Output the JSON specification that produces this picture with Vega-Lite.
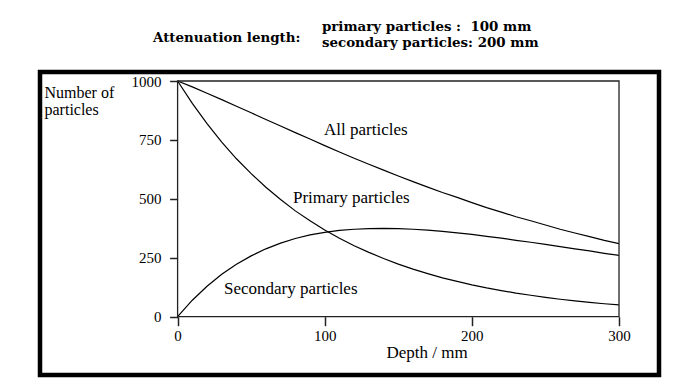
{
  "$schema": "https://vega.github.io/schema/vega-lite/v6.json",
  "width": 619,
  "height": 303,
  "autosize": {"type": "none"},
  "padding": {"left": 40, "top": 72, "right": 39, "bottom": 9},
  "background": "white",
  "config": {
    "view": {"stroke": "black", "strokeWidth": 4.5, "fill": "white"},
    "font": "Liberation Serif"
  },
  "datasets": {
    "one": [{}],
    "curves": [
      {"depth": 0, "series": "All particles", "count": 1000},
      {"depth": 10, "series": "All particles", "count": 975},
      {"depth": 20, "series": "All particles", "count": 948},
      {"depth": 30, "series": "All particles", "count": 921},
      {"depth": 40, "series": "All particles", "count": 893},
      {"depth": 50, "series": "All particles", "count": 865},
      {"depth": 60, "series": "All particles", "count": 837},
      {"depth": 70, "series": "All particles", "count": 809},
      {"depth": 80, "series": "All particles", "count": 781},
      {"depth": 90, "series": "All particles", "count": 754},
      {"depth": 100, "series": "All particles", "count": 726},
      {"depth": 110, "series": "All particles", "count": 699},
      {"depth": 120, "series": "All particles", "count": 672},
      {"depth": 130, "series": "All particles", "count": 647},
      {"depth": 140, "series": "All particles", "count": 622},
      {"depth": 150, "series": "All particles", "count": 597},
      {"depth": 160, "series": "All particles", "count": 573},
      {"depth": 170, "series": "All particles", "count": 550},
      {"depth": 180, "series": "All particles", "count": 527},
      {"depth": 190, "series": "All particles", "count": 506},
      {"depth": 200, "series": "All particles", "count": 484},
      {"depth": 210, "series": "All particles", "count": 463},
      {"depth": 220, "series": "All particles", "count": 444},
      {"depth": 230, "series": "All particles", "count": 424},
      {"depth": 240, "series": "All particles", "count": 407},
      {"depth": 250, "series": "All particles", "count": 389},
      {"depth": 260, "series": "All particles", "count": 371},
      {"depth": 270, "series": "All particles", "count": 355},
      {"depth": 280, "series": "All particles", "count": 340},
      {"depth": 290, "series": "All particles", "count": 324},
      {"depth": 300, "series": "All particles", "count": 310},
      {"depth": 0, "series": "Primary particles", "count": 1000},
      {"depth": 10, "series": "Primary particles", "count": 905},
      {"depth": 20, "series": "Primary particles", "count": 819},
      {"depth": 30, "series": "Primary particles", "count": 741},
      {"depth": 40, "series": "Primary particles", "count": 670},
      {"depth": 50, "series": "Primary particles", "count": 607},
      {"depth": 60, "series": "Primary particles", "count": 549},
      {"depth": 70, "series": "Primary particles", "count": 497},
      {"depth": 80, "series": "Primary particles", "count": 449},
      {"depth": 90, "series": "Primary particles", "count": 407},
      {"depth": 100, "series": "Primary particles", "count": 368},
      {"depth": 110, "series": "Primary particles", "count": 333},
      {"depth": 120, "series": "Primary particles", "count": 301},
      {"depth": 130, "series": "Primary particles", "count": 273},
      {"depth": 140, "series": "Primary particles", "count": 247},
      {"depth": 150, "series": "Primary particles", "count": 223},
      {"depth": 160, "series": "Primary particles", "count": 202},
      {"depth": 170, "series": "Primary particles", "count": 183},
      {"depth": 180, "series": "Primary particles", "count": 165},
      {"depth": 190, "series": "Primary particles", "count": 150},
      {"depth": 200, "series": "Primary particles", "count": 135},
      {"depth": 210, "series": "Primary particles", "count": 122},
      {"depth": 220, "series": "Primary particles", "count": 111},
      {"depth": 230, "series": "Primary particles", "count": 100},
      {"depth": 240, "series": "Primary particles", "count": 91},
      {"depth": 250, "series": "Primary particles", "count": 82},
      {"depth": 260, "series": "Primary particles", "count": 74},
      {"depth": 270, "series": "Primary particles", "count": 67},
      {"depth": 280, "series": "Primary particles", "count": 61},
      {"depth": 290, "series": "Primary particles", "count": 55},
      {"depth": 300, "series": "Primary particles", "count": 50},
      {"depth": 0, "series": "Secondary particles", "count": 0},
      {"depth": 10, "series": "Secondary particles", "count": 70},
      {"depth": 20, "series": "Secondary particles", "count": 129},
      {"depth": 30, "series": "Secondary particles", "count": 180},
      {"depth": 40, "series": "Secondary particles", "count": 223},
      {"depth": 50, "series": "Secondary particles", "count": 258},
      {"depth": 60, "series": "Secondary particles", "count": 288},
      {"depth": 70, "series": "Secondary particles", "count": 312},
      {"depth": 80, "series": "Secondary particles", "count": 332},
      {"depth": 90, "series": "Secondary particles", "count": 347},
      {"depth": 100, "series": "Secondary particles", "count": 358},
      {"depth": 110, "series": "Secondary particles", "count": 366},
      {"depth": 120, "series": "Secondary particles", "count": 371},
      {"depth": 130, "series": "Secondary particles", "count": 374},
      {"depth": 140, "series": "Secondary particles", "count": 375},
      {"depth": 150, "series": "Secondary particles", "count": 374},
      {"depth": 160, "series": "Secondary particles", "count": 371},
      {"depth": 170, "series": "Secondary particles", "count": 367},
      {"depth": 180, "series": "Secondary particles", "count": 362},
      {"depth": 190, "series": "Secondary particles", "count": 356},
      {"depth": 200, "series": "Secondary particles", "count": 349},
      {"depth": 210, "series": "Secondary particles", "count": 341},
      {"depth": 220, "series": "Secondary particles", "count": 333},
      {"depth": 230, "series": "Secondary particles", "count": 324},
      {"depth": 240, "series": "Secondary particles", "count": 316},
      {"depth": 250, "series": "Secondary particles", "count": 307},
      {"depth": 260, "series": "Secondary particles", "count": 297},
      {"depth": 270, "series": "Secondary particles", "count": 288},
      {"depth": 280, "series": "Secondary particles", "count": 279},
      {"depth": 290, "series": "Secondary particles", "count": 269},
      {"depth": 300, "series": "Secondary particles", "count": 260}
    ]
  },
  "layer": [
    {
      "data": {"name": "curves"},
      "mark": {"type": "line", "color": "black", "strokeWidth": 1.2},
      "encoding": {
        "x": {
          "field": "depth",
          "type": "quantitative",
          "scale": {"domain": [-93.52, 327.18], "nice": false, "zero": false},
          "axis": {
            "title": "Depth / mm",
            "orient": "bottom",
            "offset": -58.3,
            "values": [0, 100, 200, 300],
            "format": "d",
            "domain": false,
            "grid": false,
            "tickSize": 9,
            "tickWidth": 1.5,
            "tickColor": "#222",
            "labelFont": "Liberation Serif",
            "labelFontSize": 15,
            "labelColor": "black",
            "labelPadding": 3,
            "titleFont": "Liberation Serif",
            "titleFontSize": 17,
            "titleFontWeight": "normal",
            "titleColor": "black",
            "titleX": 386.5,
            "titleY": 41,
            "titleBaseline": "alphabetic",
            "titleAnchor": "middle"
          }
        },
        "y": {
          "field": "count",
          "type": "quantitative",
          "scale": {"domain": [-247.3, 1038.2], "nice": false, "zero": false},
          "axis": {
            "title": ["Number of", "particles"],
            "orient": "left",
            "offset": -137.6,
            "values": [0, 250, 500, 750, 1000],
            "format": "d",
            "domain": false,
            "grid": false,
            "tickSize": 8,
            "tickWidth": 1.5,
            "tickColor": "#222",
            "labelFont": "Liberation Serif",
            "labelFontSize": 15,
            "labelColor": "black",
            "labelPadding": 8.5,
            "titleFont": "Liberation Serif",
            "titleFontSize": 16,
            "titleFontWeight": "normal",
            "titleColor": "black",
            "titleAngle": 0,
            "titleAlign": "left",
            "titleBaseline": "alphabetic",
            "titleLineHeight": 17,
            "titleX": -133.6,
            "titleY": 25.7
          }
        },
        "detail": {"field": "series", "type": "nominal"}
      }
    },
    {
      "data": {"name": "one"},
      "mark": {"type": "rect", "fillOpacity": 0, "stroke": "#222", "strokeWidth": 1.3},
      "encoding": {
        "x": {"datum": 0},
        "x2": {"datum": 300},
        "y": {"datum": 0},
        "y2": {"datum": 1000}
      }
    },
    {
      "data": {"name": "one"},
      "mark": {"type": "text", "align": "left", "baseline": "alphabetic", "font": "Liberation Serif", "fontSize": 17, "color": "black"},
      "encoding": {"x": {"datum": 99.5}, "y": {"datum": 771}, "text": {"value": "All particles"}}
    },
    {
      "data": {"name": "one"},
      "mark": {"type": "text", "align": "left", "baseline": "alphabetic", "font": "Liberation Serif", "fontSize": 17, "color": "black"},
      "encoding": {"x": {"datum": 78.4}, "y": {"datum": 483.7}, "text": {"value": "Primary particles"}}
    },
    {
      "data": {"name": "one"},
      "mark": {"type": "text", "align": "left", "baseline": "alphabetic", "font": "Liberation Serif", "fontSize": 17, "color": "black"},
      "encoding": {"x": {"datum": 31.5}, "y": {"datum": 96.3}, "text": {"value": "Secondary particles"}}
    },
    {
      "data": {"name": "one"},
      "mark": {"type": "text", "align": "left", "baseline": "alphabetic", "font": "DejaVu Serif", "fontSize": 13.4, "fontWeight": "bold", "color": "black"},
      "encoding": {"x": {"datum": -16.7}, "y": {"datum": 1165.5}, "text": {"value": "Attenuation length:"}}
    },
    {
      "data": {"name": "one"},
      "mark": {"type": "text", "align": "left", "baseline": "alphabetic", "font": "DejaVu Serif", "fontSize": 13.4, "fontWeight": "bold", "color": "black", "lineHeight": 16.3},
      "encoding": {"x": {"datum": 98.1}, "y": {"datum": 1213.4}, "text": {"value": ["primary particles :\u00a0 100 mm", "secondary particles: 200 mm"]}}
    }
  ]
}
